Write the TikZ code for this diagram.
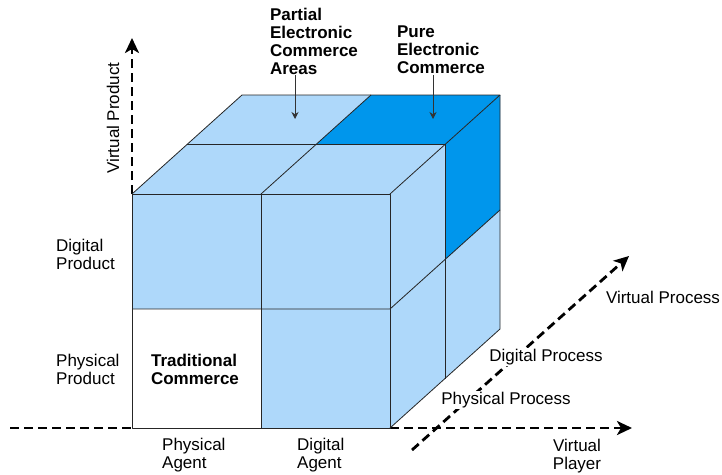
\documentclass[tikz,border=0pt]{standalone}
\usepackage{fontspec}
\setmainfont{Liberation Sans}
\usetikzlibrary{arrows.meta,positioning,calc}

\definecolor{lightcell}{RGB}{174,216,250}
\definecolor{darkcell}{RGB}{0,150,236}

\tikzset{
  edgeline/.style = {draw=black!85, line width=0.8pt, line join=round},
  axis/.style = {line width=2.8pt, dash pattern=on 9pt off 5pt},
  axisarrow/.style = {axis, -{Stealth[length=15pt,width=14pt,inset=4pt]}},
  lbl/.style = {font=\fontsize{17}{18}\selectfont, align=left, inner sep=1pt},
  blbl/.style = {lbl, font=\fontsize{17}{18}\selectfont\bfseries},
  pointer/.style = {draw=black!80, line width=0.8pt, -{Stealth[length=7pt,width=7pt]}}
}

\begin{document}
\begin{tikzpicture}[x=1pt, y=-1pt]
    \useasboundingbox (0,0) rectangle (722,474);

    % corners of the cube
    \coordinate (fbl) at (132,428);
    \coordinate (fbr) at (390,428);
    \coordinate (ftr) at (390,194);
    \coordinate (ftl) at (132,194);
    \coordinate (btl) at (242,95);
    \coordinate (btr) at (500,95);
    \coordinate (bbr) at (500,329);

    % axes
    \coordinate (xstart) at (10,428);
    \coordinate (xend) at (632,428);
    \coordinate (yend) at (132,38);
    \coordinate (zstart) at (412,450);
    \coordinate (zend) at (629,256);
    \draw[axis] (xstart) -- (fbl);
    \draw[axisarrow] (fbr) -- (xend);
    \draw[axisarrow] (ftl) -- (yend);
    \draw[axisarrow] (zstart) -- (zend);

    % faces
    \fill[lightcell] (ftl) -- (ftr) -- (fbr) -- (fbl) -- cycle;
    \fill[white] (132,309) rectangle (261,428);
    \fill[lightcell] (ftl) -- (btl) -- (btr) -- (ftr) -- cycle;
    \fill[darkcell] (316,144.5) -- (445,144.5) -- (btr) -- (371,95) -- cycle;
    \fill[lightcell] (ftr) -- (btr) -- (bbr) -- (fbr) -- cycle;
    \fill[darkcell] (445,144.5) -- (btr) -- (500,210) -- (445,259.5) -- cycle;

    % edges
    \draw[edgeline] (ftl) -- (ftr) -- (fbr) -- (fbl) -- cycle;
    \draw[edgeline] (ftl) -- (btl) -- (btr) -- (ftr);
    \draw[edgeline] (btr) -- (bbr) -- (fbr);
    \draw[edgeline] (261,194) -- (261,428);
    \draw[edgeline] (132,309) -- (390,309) -- (500,210);
    \draw[edgeline] (187,144.5) -- (445,144.5) -- (445,378.5);
    \draw[edgeline] (261,194) -- (371,95);

    % labels
    \node[lbl, rotate=90] (vprod) at (113,118) {Virtual Product};
    \node[lbl, anchor=west] (dprod) at (55,254) {Digital\\Product};
    \node[lbl, anchor=west] (pprod) at (55,369) {Physical\\Product};
    \node[blbl] (trad) at (195,369) {Traditional\\Commerce};
    \node[lbl, anchor=west] (pagent) at (161,455) {Physical\\Agent};
    \node[lbl, anchor=west] (dagent) at (296,455) {Digital\\Agent};
    \node[lbl, align=center] (vplayer) at (577,456) {Virtual\\Player};
    \node[lbl, fill=white] (pproc) at (506,400) {Physical Process};
    \node[lbl, fill=white] (dproc) at (546,357) {Digital Process};
    \node[lbl] (vproc) at (663,297) {Virtual Process};
    \node[blbl] (partial) at (314,41) {Partial\\Electronic\\Commerce\\Areas};
    \node[blbl] (pure) at (441,50) {Pure\\Electronic\\Commerce};

    % pointers
    \coordinate (ptip) at (295,119);
    \coordinate (qtip) at (433,119);
    \draw[pointer] (partial.south -| ptip) -- (ptip);
    \draw[pointer] (pure.south -| qtip) -- (qtip);
\end{tikzpicture}
\end{document}
